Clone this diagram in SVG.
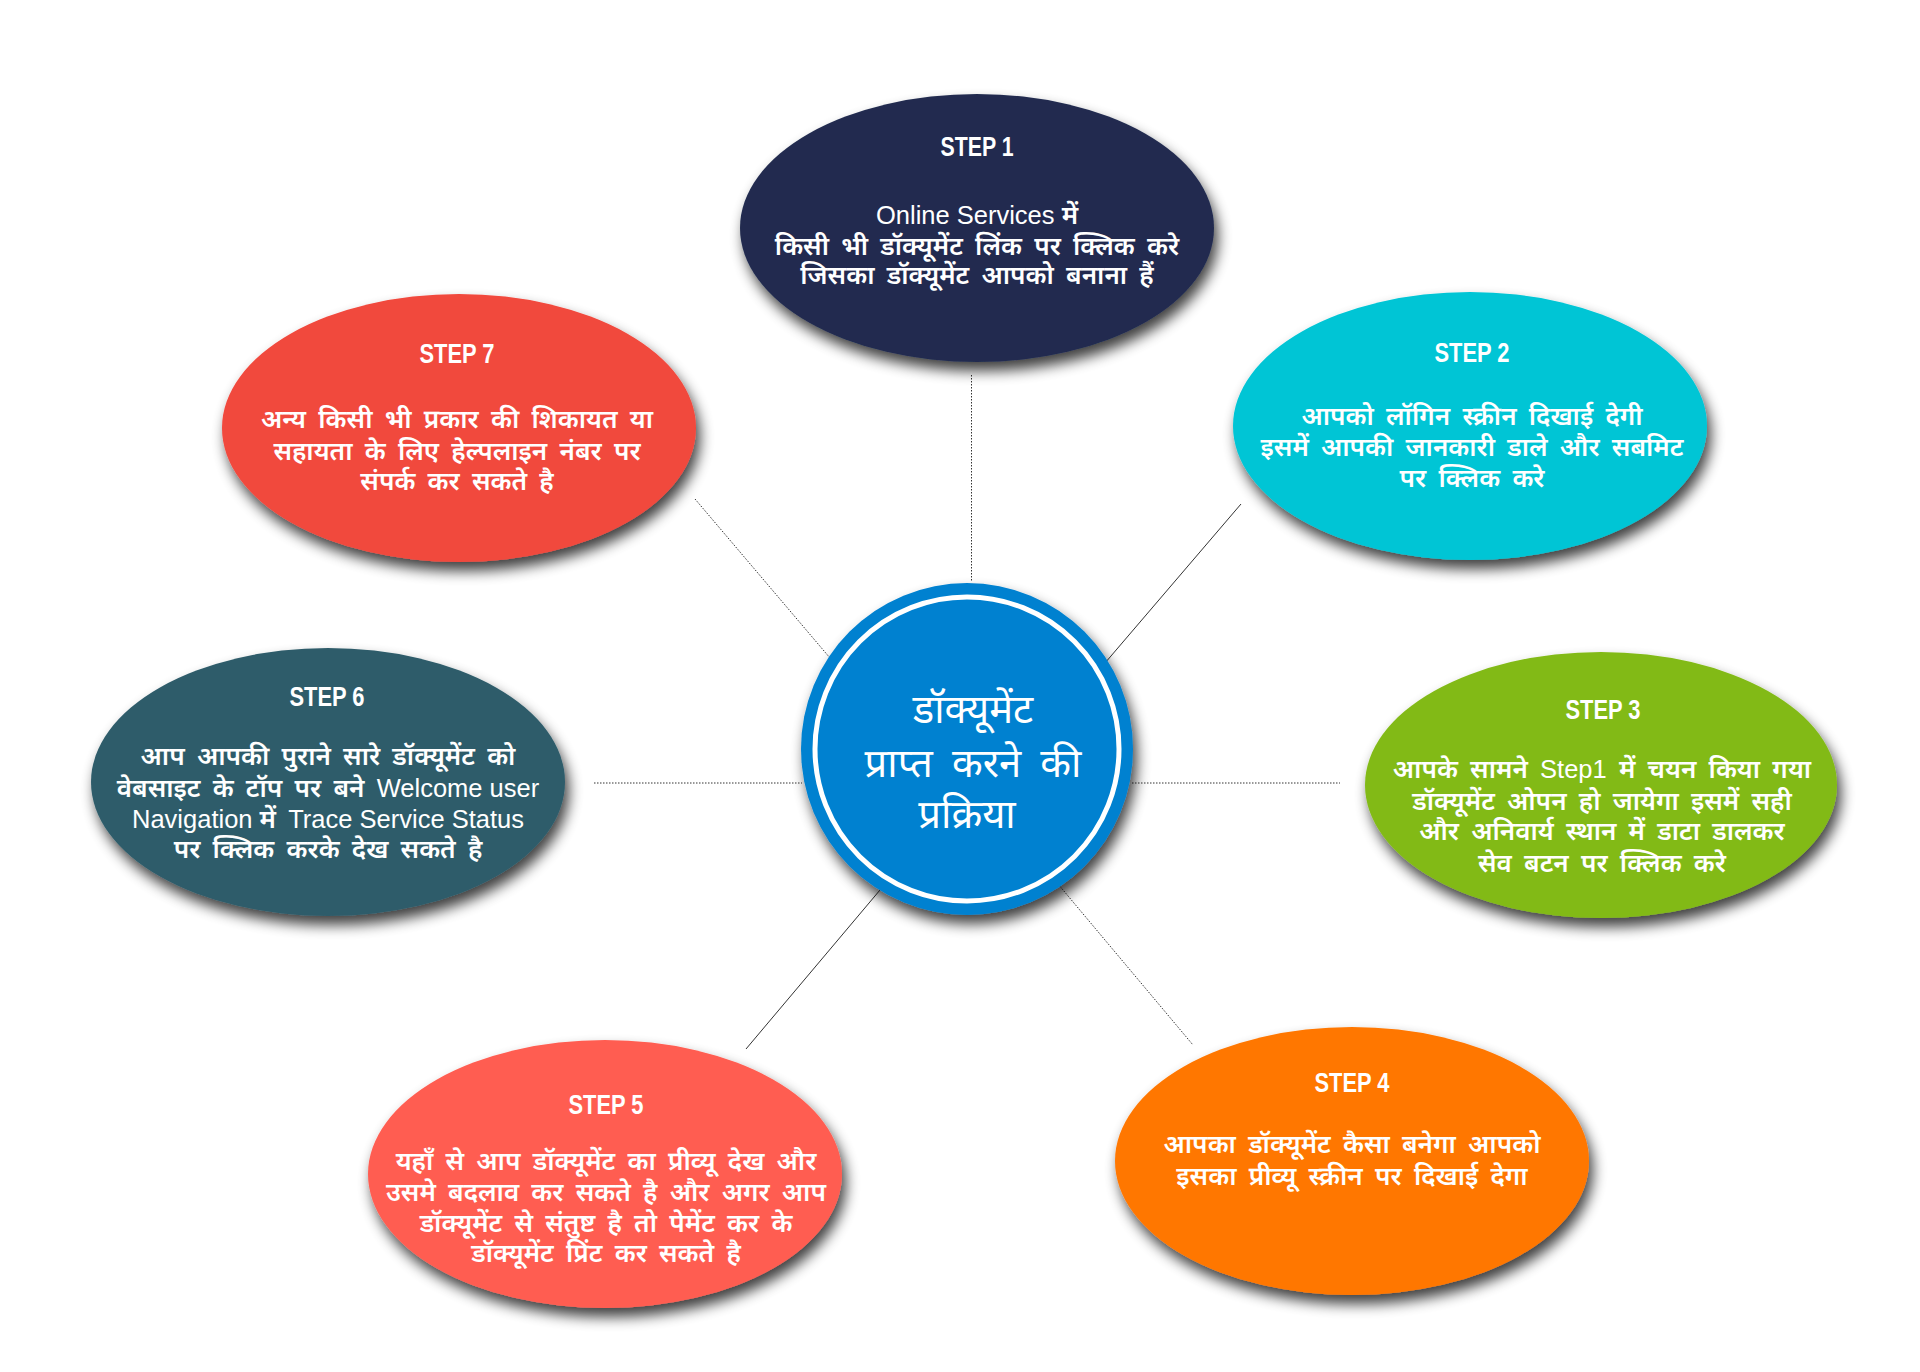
<svg xmlns="http://www.w3.org/2000/svg" width="1920" height="1372" viewBox="0 0 1920 1372">
<defs>
<filter id="sh" x="-20%" y="-20%" width="140%" height="150%">
<feGaussianBlur in="SourceAlpha" stdDeviation="7"/>
<feOffset dx="4" dy="9" result="b"/>
<feComponentTransfer><feFuncA type="linear" slope="0.75"/></feComponentTransfer>
<feMerge><feMergeNode/><feMergeNode in="SourceGraphic"/></feMerge>
</filter>
<style>
.step{font-family:"Liberation Sans Narrow","Liberation Sans",Arial,sans-serif;font-weight:bold;font-size:27px;fill:#fff;text-anchor:middle}
.body{font-family:"Liberation Sans","Noto Sans Devanagari","Noto Sans",sans-serif;font-size:26px;font-weight:600;fill:#fff;text-anchor:middle;word-spacing:5px}
.lat{font-weight:normal;font-size:25.5px;word-spacing:0}
.ctr{font-family:"Liberation Sans","Noto Sans Devanagari","Noto Sans",sans-serif;font-size:40px;fill:#fff;text-anchor:middle}
.dot{stroke:#333;stroke-width:1;stroke-dasharray:1.5 1.5;fill:none}
.sol{stroke:#333;stroke-width:1;fill:none}
</style>
</defs>
<rect width="1920" height="1372" fill="#fff"/>
<g id="connectors">
<line class="dot" x1="971.5" y1="375" x2="971.5" y2="582"/>
<line class="sol" x1="1241" y1="504" x2="1105" y2="663"/>
<line class="dot" x1="695" y1="499" x2="830" y2="658"/>
<line class="dot" x1="594" y1="783" x2="802" y2="783"/>
<line class="dot" x1="1132" y1="783" x2="1340" y2="783"/>
<line class="sol" x1="880" y1="890" x2="746" y2="1049"/>
<line class="dot" x1="1058" y1="884" x2="1193" y2="1045"/>
</g>
<g id="step1">
<ellipse cx="977" cy="228" rx="237" ry="134" fill="#212c4f" filter="url(#sh)"/>
<text class="step" x="977" y="156" textLength="73" lengthAdjust="spacingAndGlyphs">STEP 1</text>
<text class="body" x="977" y="224"><tspan class="lat">Online Services </tspan>में</text>
<text class="body" x="977" y="255">किसी भी डॉक्यूमेंट लिंक पर क्लिक करे</text>
<text class="body" x="977" y="284">जिसका डॉक्यूमेंट आपको बनाना हैं</text>
</g>
<g id="step2">
<ellipse cx="1470" cy="426" rx="237" ry="134" fill="#00c5d5" filter="url(#sh)"/>
<text class="step" x="1472" y="362" textLength="75" lengthAdjust="spacingAndGlyphs">STEP 2</text>
<text class="body" x="1472" y="425">आपको लॉगिन स्क्रीन दिखाई देगी</text>
<text class="body" x="1472" y="456">इसमें आपकी जानकारी डाले और सबमिट</text>
<text class="body" x="1472" y="487">पर क्लिक करे</text>
</g>
<g id="step7">
<ellipse cx="459" cy="428" rx="237" ry="134" fill="#f1483d" filter="url(#sh)"/>
<text class="step" x="457" y="363" textLength="75" lengthAdjust="spacingAndGlyphs">STEP 7</text>
<text class="body" x="457" y="428">अन्य किसी भी प्रकार की शिकायत या</text>
<text class="body" x="457" y="460">सहायता के लिए हेल्पलाइन नंबर पर</text>
<text class="body" x="457" y="490">संपर्क कर सकते है</text>
</g>
<g id="step6">
<ellipse cx="328" cy="782" rx="237" ry="134" fill="#2f5c6a" filter="url(#sh)"/>
<text class="step" x="327" y="706" textLength="75" lengthAdjust="spacingAndGlyphs">STEP 6</text>
<text class="body" x="328" y="765">आप आपकी पुराने सारे डॉक्यूमेंट को</text>
<text class="body" x="328" y="797">वेबसाइट के टॉप पर बने <tspan class="lat">Welcome user</tspan></text>
<text class="body" x="328" y="828"><tspan class="lat">Navigation </tspan>में  <tspan class="lat">Trace Service Status</tspan></text>
<text class="body" x="328" y="858">पर क्लिक करके देख सकते है</text>
</g>
<g id="step3">
<ellipse cx="1601" cy="785" rx="236" ry="133" fill="#82ba18" filter="url(#sh)"/>
<text class="step" x="1603" y="719" textLength="75" lengthAdjust="spacingAndGlyphs">STEP 3</text>
<text class="body" x="1602" y="778">आपके सामने <tspan class="lat">Step1</tspan> में चयन किया गया</text>
<text class="body" x="1602" y="810">डॉक्यूमेंट ओपन हो जायेगा इसमें सही</text>
<text class="body" x="1602" y="840">और अनिवार्य स्थान में डाटा डालकर</text>
<text class="body" x="1602" y="872">सेव बटन पर क्लिक करे</text>
</g>
<g id="step5">
<ellipse cx="605" cy="1174" rx="237" ry="134" fill="#ff5d51" filter="url(#sh)"/>
<text class="step" x="606" y="1114" textLength="75" lengthAdjust="spacingAndGlyphs">STEP 5</text>
<text class="body" x="606" y="1170">यहाँ से आप डॉक्यूमेंट का प्रीव्यू देख और</text>
<text class="body" x="606" y="1201">उसमे बदलाव कर सकते है और अगर आप</text>
<text class="body" x="606" y="1232">डॉक्यूमेंट से संतुष्ट है तो पेमेंट कर के</text>
<text class="body" x="606" y="1262">डॉक्यूमेंट प्रिंट कर सकते है</text>
</g>
<g id="step4">
<ellipse cx="1352" cy="1161" rx="237" ry="134" fill="#ff7705" filter="url(#sh)"/>
<text class="step" x="1352" y="1092" textLength="75" lengthAdjust="spacingAndGlyphs">STEP 4</text>
<text class="body" x="1352" y="1153">आपका डॉक्यूमेंट कैसा बनेगा आपको</text>
<text class="body" x="1352" y="1185">इसका प्रीव्यू स्क्रीन पर दिखाई देगा</text>
</g>
<g id="center">
<circle cx="967" cy="749" r="166" fill="#0481d0" filter="url(#sh)"/>
<circle cx="967" cy="749" r="152" fill="none" stroke="#fff" stroke-width="5"/>
<text class="ctr" x="973" y="723">डॉक्यूमेंट</text>
<text class="ctr" x="973" y="777" word-spacing="8">प्राप्त करने की</text>
<text class="ctr" x="967" y="828">प्रक्रिया</text>
</g>
</svg>
